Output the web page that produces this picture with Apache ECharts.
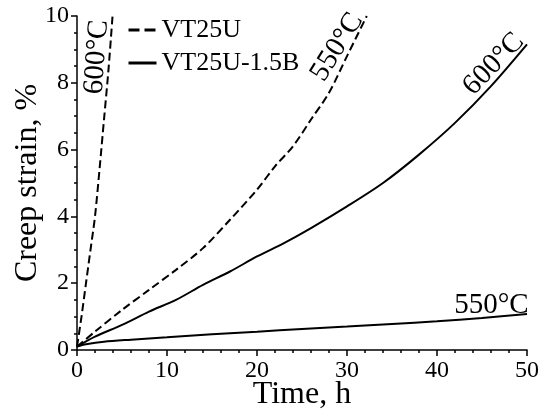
<!DOCTYPE html>
<html>
<head>
<meta charset="utf-8">
<script src="https://cdn.jsdelivr.net/npm/echarts@6/dist/echarts.min.js"></script>
<style>
body{margin:0;background:#fff;}
#creepChart{width:545px;height:411px;}
</style>
</head>
<body>
<div id="creepChart"></div>
<script>
// VT25U, 600°C
let t_vt600 = [0, 0.5, 1, 1.5, 2, 2.5, 3, 3.5, 3.95];
let e_vt600 = [0.1, 1.0, 2.0, 3.0, 4.0, 5.4, 6.9, 8.4, 10.0];
// VT25U, 550°C
let t_vt550 = [0, 2, 5, 8, 11, 14, 17, 20, 22, 24, 26, 28, 30, 32.2];
let e_vt550 = [0.1, 0.55, 1.2, 1.8, 2.4, 3.05, 3.9, 4.8, 5.5, 6.1, 6.9, 7.7, 8.8, 10.0];
// VT25U-1.5B, 600°C
let t_b600 = [0, 2, 5, 8, 11, 14, 17, 20, 23, 26, 30, 34, 38, 42, 46, 50];
let e_b600 = [0.1, 0.4, 0.75, 1.15, 1.5, 1.95, 2.35, 2.8, 3.2, 3.65, 4.3, 5.0, 5.85, 6.8, 7.9, 9.15];
// VT25U-1.5B, 550°C
let t_b550 = [0, 1, 3, 6, 10, 15, 20, 25, 30, 35, 40, 45, 50];
let e_b550 = [0.1, 0.17, 0.25, 0.31, 0.38, 0.47, 0.55, 0.63, 0.7, 0.78, 0.86, 0.96, 1.08];

let legendNames = ['VT25U', 'VT25U-1.5B'];
let xTicks = [0, 10, 20, 30, 40, 50];
let yTicks = [0, 2, 4, 6, 8, 10];

// temperature notes: [time, strain, text, angle]
let notes = [
  [2.2, 8.77, '600°C', 86],
  [28.9, 9.07, '550°C', 58],
  [46.3, 8.56, '600°C', 46],
  [46.05, 1.35, '550°C', 0]
];

function pairs(xs, ys) {
  let out = [];
  for (let i = 0; i < xs.length; i++) {
    out.push([xs[i], ys[i]]);
  }
  return out;
}

let serif = "'Liberation Serif', 'Times New Roman', serif";

let myChart = echarts.init(document.getElementById('creepChart'));

let dashed = { color: '#000', width: 2, type: [8, 4] };
let solid = { color: '#000', width: 2, type: 'solid' };

let option = {
  backgroundColor: '#fff',
  animation: false,
  grid: { left: 77, right: 18, top: 16, bottom: 61, outerBoundsMode: 'none', containLabel: false },
  legend: {
    data: [
      { name: legendNames[0], lineStyle: { width: 3, type: [11, 5] } },
      { name: legendNames[1], lineStyle: { width: 3, type: 'solid' } }
    ],
    orient: 'vertical',
    left: 122,
    top: 12,
    itemWidth: 28,
    itemHeight: 14,
    itemGap: 7,
    itemTextGap: 4,
    itemStyle: { opacity: 0 },
    textStyle: { fontFamily: serif, fontSize: 26, lineHeight: 26, color: '#000' }
  },
  xAxis: {
    type: 'value',
    min: 0,
    max: 50,
    interval: 10,
    offset: 4,
    name: 'Time, h',
    nameLocation: 'middle',
    nameGap: 26,
    nameMoveOverlap: false,
    nameTextStyle: {
      fontFamily: serif, fontSize: 32, lineHeight: 30, color: '#000',
      backgroundColor: '#fff', padding: [0, 2, 0, 2]
    },
    axisLine: { lineStyle: { color: '#000', width: 1.5 } },
    axisTick: { inside: false, length: 6, lineStyle: { color: '#000', width: 1.5 } },
    minorTick: { show: true, splitNumber: 5, length: 3, lineStyle: { color: '#000', width: 1.5 } },
    splitLine: { show: false },
    axisLabel: {
      margin: 5,
      fontFamily: serif, fontSize: 24, lineHeight: 24, color: '#000',
      formatter: function (v) { return xTicks.indexOf(v) >= 0 ? String(v) : ''; }
    }
  },
  yAxis: {
    type: 'value',
    min: 0,
    max: 10,
    interval: 2,
    name: 'Creep strain, %',
    nameLocation: 'middle',
    nameGap: 33,
    nameMoveOverlap: false,
    nameTextStyle: { fontFamily: serif, fontSize: 32, lineHeight: 32, color: '#000' },
    axisLine: { show: true, lineStyle: { color: '#000', width: 1.5 } },
    axisTick: { show: true, inside: false, length: 6, lineStyle: { color: '#000', width: 1.5 } },
    minorTick: { show: true, splitNumber: 4, length: 3, lineStyle: { color: '#000', width: 1.5 } },
    splitLine: { show: false },
    axisLabel: {
      margin: 8,
      fontFamily: serif, fontSize: 24, lineHeight: 24, color: '#000',
      formatter: function (v) { return yTicks.indexOf(v) >= 0 ? String(v) : ''; }
    }
  },
  series: [{
    name: 'VT25U',
    type: 'line',
    symbol: 'none',
    smooth: 0.3,
    lineStyle: dashed,
    itemStyle: { color: '#000' },
    data: pairs(t_vt600, e_vt600)
  }, {
    name: 'VT25U',
    type: 'line',
    symbol: 'none',
    smooth: 0.3,
    lineStyle: dashed,
    itemStyle: { color: '#000' },
    data: pairs(t_vt550, e_vt550)
  }, {
    name: 'VT25U-1.5B',
    type: 'line',
    symbol: 'none',
    smooth: 0.3,
    lineStyle: solid,
    itemStyle: { color: '#000' },
    data: pairs(t_b600, e_b600)
  }, {
    name: 'VT25U-1.5B',
    type: 'line',
    symbol: 'none',
    smooth: 0.3,
    lineStyle: solid,
    itemStyle: { color: '#000' },
    data: pairs(t_b550, e_b550)
  }, {
    name: 'notes',
    type: 'scatter',
    symbolSize: 0,
    silent: true,
    itemStyle: { color: '#000', opacity: 1 },
    data: notes.map(function (n) {
      return {
        value: [n[0], n[1]],
        label: {
          show: true,
          position: 'inside',
          formatter: n[2],
          rotate: n[3],
          fontFamily: serif,
          fontSize: 29,
          color: '#000',
          textBorderWidth: 0
        }
      };
    })
  }]
};

myChart.setOption(option);
</script>
</body>
</html>
